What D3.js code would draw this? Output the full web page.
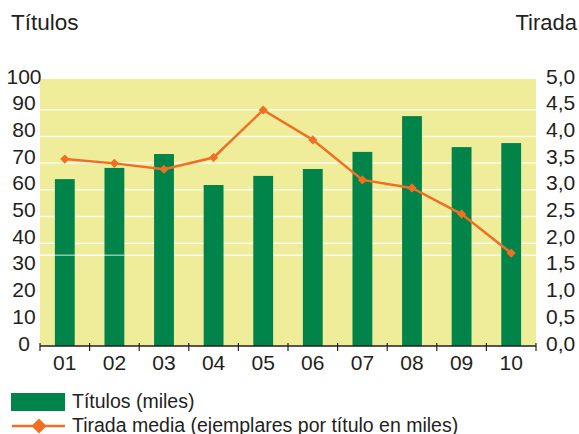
<!DOCTYPE html>
<html>
<head>
<meta charset="utf-8">
<script src="https://cdn.jsdelivr.net/npm/d3@7"></script>
<style>
body { margin: 0; background: #fff; }
text { font-family: "Liberation Sans", Arial, sans-serif; fill: #231f20; }
</style>
</head>
<body>
<div id="chart"></div>
<script>
var w = 579;
var h = 434;

// data
var years = ["01","02","03","04","05","06","07","08","09","10"];
var titulos = [62.5, 66.7, 71.9, 60.3, 63.7, 66.3, 72.7, 86.1, 74.5, 76.0];
var tirada = [3.50, 3.42, 3.31, 3.53, 4.42, 3.86, 3.11, 2.96, 2.47, 1.74];
var leftTicks = [0,10,20,30,40,50,60,70,80,90,100];
var rightTicks = [0,0.5,1,1.5,2,2.5,3,3.5,4,4.5,5];
var gridValues = [40,50,60,70,80,90];
var oddLine = 35.5;

var green = "#00844a";
var orange = "#f07023";
var yellow = "#efec9a";

var svg = d3.select("#chart").append("svg").attr("width",w).attr("height",h);

var x = d3.scaleBand().domain(years).range([40,536]).paddingInner(0.6).paddingOuter(0.3);
var y = d3.scaleLinear().domain([0,100]).range([346,79]);
var y2 = d3.scaleLinear().domain([0,5]).range([346,79]);

// plot background
svg.append("rect")
    .attr("x",40).attr("y",y(100))
    .attr("width",496).attr("height",y(0)-y(100))
    .style("fill",yellow);

// gridlines (sit a few px under the tick value in the original)
svg.selectAll("line.grid").data(gridValues.concat([oddLine])).enter().append("line")
    .attr("class","grid")
    .attr("x1",40).attr("x2",536)
    .attr("y1",function(d){ return y(d)+4; })
    .attr("y2",function(d){ return y(d)+4; })
    .style("stroke","#fff").style("stroke-width",1.5).style("opacity",0.85);

// bars
svg.selectAll("rect.bar").data(titulos).enter().append("rect")
    .attr("class","bar")
    .attr("x",function(d,i){ return x(years[i]); })
    .attr("y",function(d){ return y(d); })
    .attr("width",x.bandwidth())
    .attr("height",function(d){ return y(0)-y(d); })
    .style("fill",green);

// the stray light line that crosses the first two bars
svg.append("line")
    .attr("x1",40).attr("x2",x("02")+x.bandwidth())
    .attr("y1",y(oddLine)+4).attr("y2",y(oddLine)+4)
    .style("stroke","#fff").style("stroke-width",1.5).style("opacity",0.55);

// x axis
svg.append("line")
    .attr("x1",40).attr("x2",536).attr("y1",y(0)).attr("y2",y(0))
    .style("stroke","#231f20").style("stroke-width",1.5);

var bounds = years.map(function(d){ return x(d) - x.step()*0.3; });
bounds.push(536);
svg.selectAll("line.tick").data(bounds).enter().append("line")
    .attr("class","tick")
    .attr("x1",function(d){ return d; }).attr("x2",function(d){ return d; })
    .attr("y1",y(0)-3).attr("y2",y(0)+5)
    .style("stroke","#231f20").style("stroke-width",1.2);

svg.selectAll("text.xlab").data(years).enter().append("text")
    .attr("class","xlab")
    .text(function(d){ return d; })
    .attr("x",function(d){ return x(d)+x.bandwidth()/2; })
    .attr("y",369.5)
    .attr("font-size","21px")
    .attr("text-anchor","middle");

// left axis labels
svg.selectAll("text.ylab").data(leftTicks).enter().append("text")
    .attr("class","ylab")
    .text(function(d){ return d; })
    .attr("x",24)
    .attr("y",function(d){ return y(d)+4.5; })
    .attr("font-size","21px")
    .attr("text-anchor","middle");

// right axis labels
var fmt = function(d){ return d3.format(".1f")(d).replace(".",","); };
svg.selectAll("text.y2lab").data(rightTicks).enter().append("text")
    .attr("class","y2lab")
    .text(fmt)
    .attr("x",546)
    .attr("y",function(d){ return y2(d)+4.5; })
    .attr("font-size","21px")
    .attr("text-anchor","start");

// line series
var line = d3.line()
    .x(function(d,i){ return x(years[i])+x.bandwidth()/2; })
    .y(function(d){ return y2(d); });

svg.append("path").datum(tirada)
    .attr("d",line)
    .style("fill","none").style("stroke",orange).style("stroke-width",2.5);

var diamond = d3.symbol().type(d3.symbolSquare).size(42);
svg.selectAll("path.mark").data(tirada).enter().append("path")
    .attr("class","mark")
    .attr("d",diamond)
    .attr("transform",function(d,i){
        return "translate(" + (x(years[i])+x.bandwidth()/2) + "," + y2(d) + ") rotate(45)";
    })
    .style("fill",orange);

// axis titles
svg.append("text").text("Títulos")
    .attr("x",11).attr("y",30).attr("font-size","22.5px");
svg.append("text").text("Tirada")
    .attr("x",577).attr("y",30).attr("font-size","22px").attr("text-anchor","end");

// legend
svg.append("rect")
    .attr("x",11).attr("y",393).attr("width",54).attr("height",18)
    .style("fill",green);
svg.append("text").text("Títulos (miles)")
    .attr("x",72).attr("y",407.5).attr("font-size","19.5px");

svg.append("line")
    .attr("x1",12).attr("x2",65).attr("y1",426).attr("y2",426)
    .style("stroke",orange).style("stroke-width",2.5);
svg.append("path")
    .attr("d",d3.symbol().type(d3.symbolSquare).size(112))
    .attr("transform","translate(39,426) rotate(45)")
    .style("fill",orange);
svg.append("text").text("Tirada media (ejemplares por título en miles)")
    .attr("x",72).attr("y",431.5).attr("font-size","19.5px");
</script>
</body>
</html>
